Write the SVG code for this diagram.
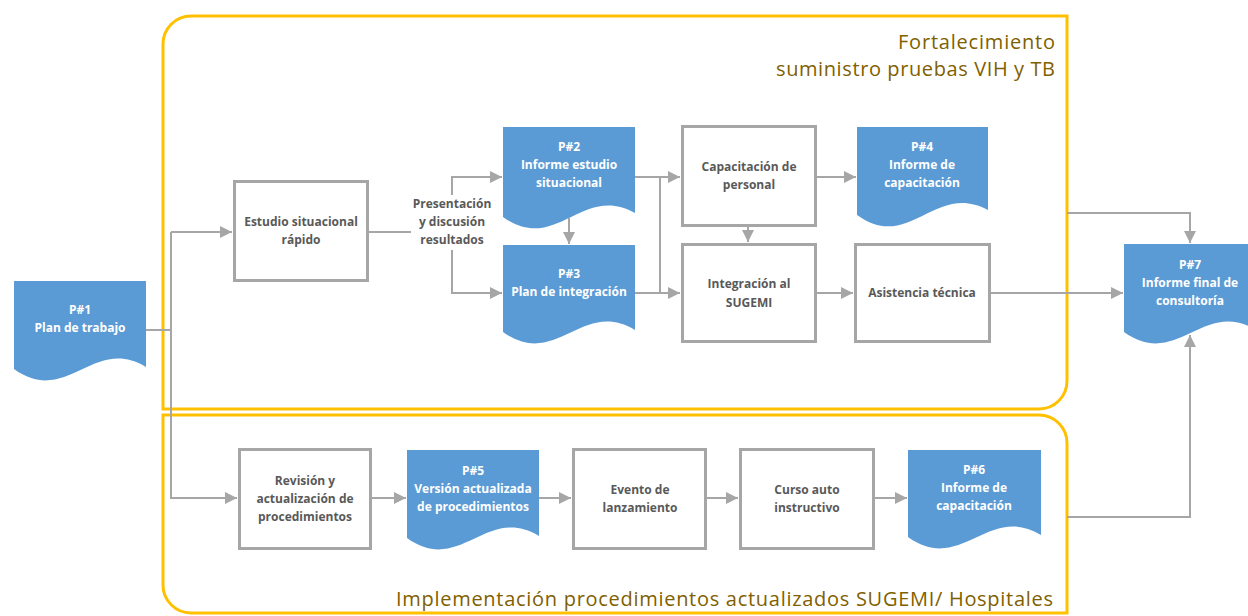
<svg xmlns="http://www.w3.org/2000/svg" width="1248" height="616" viewBox="0 0 1248 616">
<style>
.cont{fill:none;stroke:#FFC000;stroke-width:3}
.box{fill:#FFFFFF;stroke:#A6A6A6;stroke-width:3}
.doc{fill:#5B9BD5;stroke:none}
.t{font-family:"Open Sans","Liberation Sans",sans-serif;font-size:12px;font-weight:bold;text-anchor:middle}
.tb{fill:#595959}
.tw{fill:#FFFFFF}
.title{font-family:"Open Sans","Liberation Sans",sans-serif;font-size:20px;fill:#7F6000}
.conn path{fill:none;stroke:#A6A6A6;stroke-width:2}
</style>
<defs>
<marker id="arr" markerUnits="userSpaceOnUse" markerWidth="12" markerHeight="12" refX="12" refY="6" orient="auto">
<path d="M0,0 L12,6 L0,12 Z" fill="#A6A6A6"/>
</marker>
</defs>
<rect x="0" y="0" width="1248" height="616" fill="#FFFFFF"/>

<g id="container-top">
<path class="cont" d="M163,44 A28,28 0 0 1 191,16 H1067 V381 A28,28 0 0 1 1039,409 H163 Z"/>
<text class="title" x="1055" y="49" text-anchor="end" textLength="157">Fortalecimiento</text>
<text class="title" x="1055" y="76" text-anchor="end" textLength="279">suministro pruebas VIH y TB</text>
</g>
<g id="container-bottom">
<path class="cont" d="M163,415 H1039 A28,28 0 0 1 1067,443 V613 H191 A28,28 0 0 1 163,585 Z"/>
<text class="title" x="396" y="606" textLength="657">Implementación procedimientos actualizados SUGEMI/ Hospitales</text>
</g>

<g class="conn" id="connectors">
<path d="M146,330 H171"/>
<path d="M171,232 H232" marker-end="url(#arr)"/>
<path d="M171,232 V498 H237" marker-end="url(#arr)"/>
<path d="M369,232 H411"/>
<path d="M452,195 V177 H502" marker-end="url(#arr)"/>
<path d="M452,250 V293 H502" marker-end="url(#arr)"/>
<path d="M569,218 V244" marker-end="url(#arr)"/>
<path d="M635,177 H680" marker-end="url(#arr)"/>
<path d="M635,293 H680" marker-end="url(#arr)"/>
<path d="M660,177 V293"/>
<path d="M748,227 V242" marker-end="url(#arr)"/>
<path d="M817,177 H856" marker-end="url(#arr)"/>
<path d="M817,293 H853" marker-end="url(#arr)"/>
<path d="M991,293 H1123" marker-end="url(#arr)"/>
<path d="M1067,213 H1190 V243" marker-end="url(#arr)"/>
<path d="M1067,517 H1190 V335" marker-end="url(#arr)"/>
<path d="M372,498 H406" marker-end="url(#arr)"/>
<path d="M539,498 H571" marker-end="url(#arr)"/>
<path d="M707,498 H738" marker-end="url(#arr)"/>
<path d="M875,498 H907" marker-end="url(#arr)"/>
</g>

<g id="label-presentacion">
<text class="t tb" x="452" y="208">Presentación</text>
<text class="t tb" x="452" y="226">y discusión</text>
<text class="t tb" x="452" y="244">resultados</text>
</g>

<g id="p1">
<path class="doc" d="M14,281 H146 V367 C93,335 67,407 14,369 Z"/>
<text class="t tw" x="80" y="314">P#1</text>
<text class="t tw" x="80" y="332">Plan de trabajo</text>
</g>
<g id="estudio">
<rect class="box" x="234.5" y="181.5" width="133" height="99"/>
<text class="t tb" x="301" y="226">Estudio situacional</text>
<text class="t tb" x="301" y="244">rápido</text>
</g>
<g id="p2">
<path class="doc" d="M503,127 H635 V213 C582,183 556,255 503,217 Z"/>
<text class="t tw" x="569" y="151">P#2</text>
<text class="t tw" x="569" y="169">Informe estudio</text>
<text class="t tw" x="569" y="187">situacional</text>
</g>
<g id="p3">
<path class="doc" d="M503,245 H635 V330 C582,298 556,370 503,332 Z"/>
<text class="t tw" x="569" y="278">P#3</text>
<text class="t tw" x="569" y="296">Plan de integración</text>
</g>
<g id="capacitacion">
<rect class="box" x="682.5" y="126.5" width="133" height="99"/>
<text class="t tb" x="749" y="171">Capacitación de</text>
<text class="t tb" x="749" y="189">personal</text>
</g>
<g id="integracion">
<rect class="box" x="682.5" y="244.5" width="133" height="97"/>
<text class="t tb" x="749" y="288">Integración al</text>
<text class="t tb" x="749" y="307">SUGEMI</text>
</g>
<g id="p4">
<path class="doc" d="M857,127 H988 V210 C935,181 909,253 857,215 Z"/>
<text class="t tw" x="922" y="151">P#4</text>
<text class="t tw" x="922" y="169">Informe de</text>
<text class="t tw" x="922" y="187">capacitación</text>
</g>
<g id="asistencia">
<rect class="box" x="855.5" y="244.5" width="134" height="97"/>
<text class="t tb" x="922" y="297">Asistencia técnica</text>
</g>
<g id="p7">
<path class="doc" d="M1124,244 H1256 V330 C1203,298 1177,370 1124,332 Z"/>
<text class="t tw" x="1190" y="269">P#7</text>
<text class="t tw" x="1190" y="287">Informe final de</text>
<text class="t tw" x="1190" y="305">consultoría</text>
</g>
<g id="revision">
<rect class="box" x="239.5" y="449.5" width="131" height="99"/>
<text class="t tb" x="305" y="485">Revisión y</text>
<text class="t tb" x="305" y="503">actualización de</text>
<text class="t tb" x="305" y="521">procedimientos</text>
</g>
<g id="p5">
<path class="doc" d="M407,450 H539 V536 C486,504 460,576 407,538 Z"/>
<text class="t tw" x="473" y="475">P#5</text>
<text class="t tw" x="473" y="493">Versión actualizada</text>
<text class="t tw" x="473" y="511">de procedimientos</text>
</g>
<g id="evento">
<rect class="box" x="573.5" y="449.5" width="132" height="99"/>
<text class="t tb" x="640" y="494">Evento de</text>
<text class="t tb" x="640" y="512">lanzamiento</text>
</g>
<g id="curso">
<rect class="box" x="740.5" y="449.5" width="133" height="99"/>
<text class="t tb" x="807" y="494">Curso auto</text>
<text class="t tb" x="807" y="512">instructivo</text>
</g>
<g id="p6">
<path class="doc" d="M908,450 H1041 V535 C988,503 961,575 908,537 Z"/>
<text class="t tw" x="974" y="474">P#6</text>
<text class="t tw" x="974" y="492">Informe de</text>
<text class="t tw" x="974" y="510">capacitación</text>
</g>
</svg>
